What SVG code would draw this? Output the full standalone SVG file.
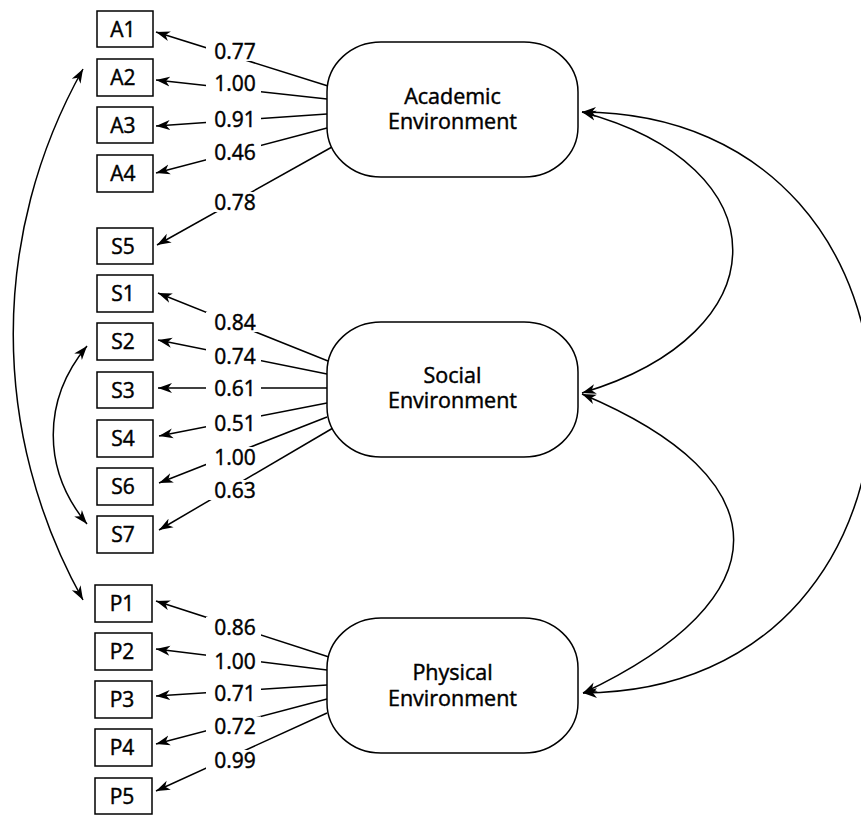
<svg xmlns="http://www.w3.org/2000/svg" width="861" height="815" viewBox="0 0 861 815">
<style>
.box{fill:#fff;stroke:#000;stroke-width:1.5}
.lat{fill:#fff;stroke:#000;stroke-width:1.5}
.ln{fill:none;stroke:#000;stroke-width:1.5;marker-end:url(#ah)}
.cv{fill:none;stroke:#000;stroke-width:1.5;marker-start:url(#ah);marker-end:url(#ah)}
text{font-family:"Open Sans","Noto Sans",sans-serif;text-anchor:middle;fill:#000;stroke:#000;stroke-width:0.45}
.bt{font-size:21px}
.lt{font-size:21px}
.nt{font-size:21.5px}
.bg{fill:#fff;stroke:none}
</style>
<defs>
<marker id="ah" viewBox="0 0 14 11" refX="14" refY="5.5" markerWidth="14" markerHeight="11" markerUnits="userSpaceOnUse" orient="auto-start-reverse">
<path d="M0,0.5 L14,5.5 L0,10.5 L4,5.5 z" fill="#000"/>
</marker>
</defs>
<rect width="861" height="815" fill="#fff"/>
<g id="connectors">
<path class="ln" d="M328,86 L156,32"/>
<path class="ln" d="M327,99 L156,80"/>
<path class="ln" d="M327,114 L156,126"/>
<path class="ln" d="M327,128 L156,173"/>
<path class="ln" d="M332,147 L157,245"/>
<path class="ln" d="M328,361 L158,293"/>
<path class="ln" d="M327,374 L158,340"/>
<path class="ln" d="M327,388 L158,388"/>
<path class="ln" d="M327,403 L159,436"/>
<path class="ln" d="M327,417 L159,483"/>
<path class="ln" d="M333,428 L159,530"/>
<path class="ln" d="M329,657 L156,601"/>
<path class="ln" d="M327,670 L156,649"/>
<path class="ln" d="M327,685 L156,696"/>
<path class="ln" d="M327,699 L156,744"/>
<path class="ln" d="M327,713 L156,791"/>
<path class="cv" d="M83,69 C-10,235 -10,433 83,600"/>
<path class="cv" d="M87,346 C42,400 42,470 87,524"/>
<path class="cv" d="M582,112 C783,166 783,333 582,393"/>
<path class="cv" d="M582,394 C784,479 784,598 583,693"/>
<path class="cv" d="M582,112 C968,114 968,691 583,693"/>
<g id="loading-labels">
<rect class="bg" x="206" y="41" width="55" height="20"/><text class="lt" x="235" y="58.5">0.77</text>
<rect class="bg" x="206" y="73.5" width="55" height="20"/><text class="lt" x="235" y="91">1.00</text>
<rect class="bg" x="206" y="109" width="55" height="20"/><text class="lt" x="235" y="126.5">0.91</text>
<rect class="bg" x="206" y="142" width="55" height="20"/><text class="lt" x="235" y="159.5">0.46</text>
<rect class="bg" x="206" y="192" width="55" height="20"/><text class="lt" x="235" y="209.5">0.78</text>
<rect class="bg" x="206" y="312" width="55" height="20"/><text class="lt" x="235" y="329.5">0.84</text>
<rect class="bg" x="206" y="346" width="55" height="20"/><text class="lt" x="235" y="363.5">0.74</text>
<rect class="bg" x="206" y="378.5" width="55" height="20"/><text class="lt" x="235" y="396">0.61</text>
<rect class="bg" x="206" y="413" width="55" height="20"/><text class="lt" x="235" y="430.5">0.51</text>
<rect class="bg" x="206" y="447" width="55" height="20"/><text class="lt" x="235" y="464.5">1.00</text>
<rect class="bg" x="206" y="480" width="55" height="20"/><text class="lt" x="235" y="497.5">0.63</text>
<rect class="bg" x="206" y="617" width="55" height="20"/><text class="lt" x="235" y="634.5">0.86</text>
<rect class="bg" x="206" y="651" width="55" height="20"/><text class="lt" x="235" y="668.5">1.00</text>
<rect class="bg" x="206" y="683.5" width="55" height="20"/><text class="lt" x="235" y="701">0.71</text>
<rect class="bg" x="206" y="716.5" width="55" height="20"/><text class="lt" x="235" y="734">0.72</text>
<rect class="bg" x="206" y="750" width="55" height="20"/><text class="lt" x="235" y="767.5">0.99</text>
</g>
</g>
<g id="A1"><rect class="box" x="97" y="11" width="56" height="36"/><text class="bt" x="123" y="36.5">A1</text></g>
<g id="A2"><rect class="box" x="97" y="59" width="56" height="37"/><text class="bt" x="123" y="85">A2</text></g>
<g id="A3"><rect class="box" x="97" y="107" width="56" height="36"/><text class="bt" x="123" y="132.5">A3</text></g>
<g id="A4"><rect class="box" x="97" y="155" width="56" height="37"/><text class="bt" x="123" y="181">A4</text></g>
<g id="S5"><rect class="box" x="97" y="228" width="56" height="36"/><text class="bt" x="123" y="253.5">S5</text></g>
<g id="S1"><rect class="box" x="97" y="275" width="56" height="37"/><text class="bt" x="123" y="301">S1</text></g>
<g id="S2"><rect class="box" x="97" y="323" width="56" height="37"/><text class="bt" x="123" y="349">S2</text></g>
<g id="S3"><rect class="box" x="97" y="372" width="56" height="36"/><text class="bt" x="123" y="397.5">S3</text></g>
<g id="S4"><rect class="box" x="97" y="420" width="56" height="37"/><text class="bt" x="123" y="446">S4</text></g>
<g id="S6"><rect class="box" x="97" y="468" width="56" height="37"/><text class="bt" x="123" y="494">S6</text></g>
<g id="S7"><rect class="box" x="97" y="516" width="56" height="37"/><text class="bt" x="123" y="542">S7</text></g>
<g id="P1"><rect class="box" x="95" y="585" width="57" height="37"/><text class="bt" x="122" y="611">P1</text></g>
<g id="P2"><rect class="box" x="95" y="633" width="57" height="37"/><text class="bt" x="122" y="659">P2</text></g>
<g id="P3"><rect class="box" x="95" y="681" width="57" height="37"/><text class="bt" x="122" y="707">P3</text></g>
<g id="P4"><rect class="box" x="95" y="729" width="57" height="37"/><text class="bt" x="122" y="755">P4</text></g>
<g id="P5"><rect class="box" x="95" y="778" width="57" height="36"/><text class="bt" x="122" y="803.5">P5</text></g>
<g id="Academic"><rect class="lat" x="327" y="42" width="251" height="135" rx="54" ry="50"/><text class="nt" x="452.5" y="103.5">Academic<tspan x="452.5" dy="25">Environment</tspan></text></g>
<g id="Social"><rect class="lat" x="327" y="322" width="251" height="135" rx="54" ry="50"/><text class="nt" x="452.5" y="383">Social<tspan x="452.5" dy="25">Environment</tspan></text></g>
<g id="Physical"><rect class="lat" x="327" y="618" width="251" height="135" rx="54" ry="50"/><text class="nt" x="452.5" y="680">Physical<tspan x="452.5" dy="25.5">Environment</tspan></text></g>
</svg>
